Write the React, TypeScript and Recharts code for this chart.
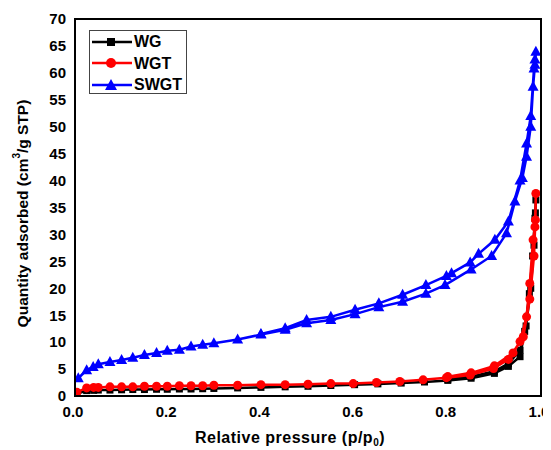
import React from "react";
import {
  ScatterChart,
  Scatter,
  XAxis,
  YAxis,
  Label,
} from "recharts";

// Relative pressure (p/p0) vs quantity adsorbed (cm3/g STP)
const wgAdsorption: [number, number][] = [
  [0.004, 0.4], [0.025, 1.0], [0.04, 1.05], [0.05, 1.1], [0.075, 1.1], [0.1, 1.15],
  [0.124, 1.2], [0.149, 1.2], [0.175, 1.25], [0.198, 1.25], [0.224, 1.3], [0.249, 1.3],
  [0.274, 1.35], [0.298, 1.4], [0.349, 1.5], [0.399, 1.6], [0.451, 1.7], [0.5, 1.8],
  [0.549, 1.95], [0.6, 2.1], [0.65, 2.25], [0.7, 2.4], [0.75, 2.6], [0.8, 2.9],
  [0.85, 3.3], [0.9, 4.2], [0.93, 5.5], [0.955, 7.3], [0.965, 12.0], [0.975, 19.0],
  [0.982, 26.0], [0.987, 33.0], [0.989, 36.4],
];
const wgDesorption: [number, number][] = [
  [0.988, 34.0], [0.985, 28.0], [0.978, 20.0], [0.968, 13.0], [0.955, 8.5], [0.93, 6.0],
  [0.9, 4.6], [0.85, 3.6], [0.8, 3.1],
];

const wgtAdsorption: [number, number][] = [
  [0.004, 0.7], [0.025, 1.5], [0.04, 1.6], [0.05, 1.6], [0.075, 1.7], [0.1, 1.7],
  [0.124, 1.7], [0.149, 1.8], [0.175, 1.8], [0.198, 1.8], [0.224, 1.9], [0.249, 1.9],
  [0.274, 1.9], [0.298, 2.0], [0.349, 2.0], [0.399, 2.1], [0.451, 2.1], [0.5, 2.2],
  [0.549, 2.3], [0.597, 2.3], [0.647, 2.5], [0.697, 2.7], [0.747, 3.0], [0.797, 3.4],
  [0.848, 3.9], [0.898, 5.1], [0.93, 6.8], [0.955, 10.1], [0.969, 14.7], [0.976, 20.9],
  [0.983, 29.0], [0.987, 31.4], [0.989, 37.6],
];
const wgtDesorption: [number, number][] = [
  [0.988, 32.7], [0.985, 26.0], [0.976, 18.0], [0.962, 11.0], [0.94, 8.0], [0.9, 5.6],
  [0.85, 4.3], [0.8, 3.6],
];

const swgtAdsorption: [number, number][] = [
  [0.007, 3.3], [0.025, 4.8], [0.039, 5.4], [0.05, 5.9], [0.075, 6.3], [0.1, 6.7],
  [0.124, 7.1], [0.149, 7.6], [0.175, 8.0], [0.198, 8.4], [0.224, 8.6], [0.249, 9.2],
  [0.274, 9.5], [0.298, 9.8], [0.349, 10.5], [0.399, 11.4], [0.451, 12.3], [0.497, 13.5],
  [0.549, 14.1], [0.601, 15.2], [0.652, 16.5], [0.703, 17.5], [0.753, 19.0], [0.794, 20.6],
  [0.85, 23.5], [0.894, 26.0], [0.926, 30.2], [0.944, 36.1], [0.96, 40.5], [0.969, 44.4],
  [0.978, 50.0], [0.983, 57.4], [0.987, 61.5], [0.989, 63.9],
];
const swgtDesorption: [number, number][] = [
  [0.987, 62.5], [0.985, 60.8], [0.978, 52.0], [0.969, 46.9], [0.955, 40.0], [0.93, 32.4],
  [0.901, 29.0], [0.866, 26.4], [0.848, 24.8], [0.808, 22.8], [0.797, 22.3], [0.753, 20.6],
  [0.703, 18.8], [0.652, 17.2], [0.601, 16.0], [0.549, 14.7], [0.497, 14.1], [0.451, 12.6],
  [0.399, 11.5],
];

const xTicks = [0, 0.2, 0.4, 0.6, 0.8, 1.0];
const yTicks = [0, 5, 10, 15, 20, 25, 30, 35, 40, 45, 50, 55, 60, 65, 70];

const seriesNames = ["WG", "WGT", "SWGT"];
const seriesColors = ["#000000", "#ff0000", "#0000ff"];

const toPoints = (ads: [number, number][], des: [number, number][]) =>
  [...ads, ...des].map(([x, y]) => ({ x, y }));

const wgData = toPoints(wgAdsorption, wgDesorption);
const wgtData = toPoints(wgtAdsorption, wgtDesorption);
const swgtData = toPoints(swgtAdsorption, swgtDesorption);

const FONT = "'Liberation Sans', Arial, sans-serif";

// chart layout (chart-local pixels)
const CHART_W = 543;
const CHART_H = 442;
const M_TOP = 11;
const M_RIGHT = 10;
const Y_AXIS_W = 67;
const X_AXIS_H = 54;

const SquareShape = (props: any) => {
  const { cx, cy } = props;
  if (cx == null || cy == null) return null;
  return <rect x={cx - 3.5} y={cy - 3.5} width={7} height={7} fill="#000000" />;
};
const CircleShape = (props: any) => {
  const { cx, cy } = props;
  if (cx == null || cy == null) return null;
  return <circle cx={cx} cy={cy} r={4.5} fill="#ff0000" />;
};
const TriangleShape = (props: any) => {
  const { cx, cy } = props;
  if (cx == null || cy == null) return null;
  return (
    <polygon
      points={`${cx},${cy - 6} ${cx - 5.5},${cy + 4} ${cx + 5.5},${cy + 4}`}
      fill="#0000ff"
    />
  );
};

const legendMarker = (i: number) => {
  if (i === 0) return <rect x={16} y={4} width={8} height={8} fill="#000" />;
  if (i === 1) return <circle cx={20} cy={8} r={5} fill="#ff0000" />;
  return <polygon points="20,2 14,13 26,13" fill="#0000ff" />;
};

const LegendBox = () => (
  <div
    style={{
      position: "absolute",
      left: 81,
      top: 22,
      border: "1.5px solid #444",
      background: "#fff",
      width: 98,
      height: 64,
      boxSizing: "border-box",
      fontFamily: FONT,
    }}
  >
    {seriesNames.map((name, i) => (
      <div
        key={name}
        style={{ display: "flex", alignItems: "center", height: 21.5, lineHeight: "21.5px" }}
      >
        <svg width={42} height={16} style={{ marginLeft: 1 }}>
          <line x1={1} y1={8} x2={41} y2={8} stroke={seriesColors[i]} strokeWidth={2.5} />
          {legendMarker(i)}
        </svg>
        <span style={{ fontSize: 16, fontWeight: "bold", color: "#000", marginLeft: 1 }}>
          {name}
        </span>
      </div>
    ))}
  </div>
);

const PlotFrame = () => (
  <div
    style={{
      position: "absolute",
      left: Y_AXIS_W - 1,
      top: M_TOP - 1,
      width: CHART_W - M_RIGHT - Y_AXIS_W + 2,
      height: CHART_H - X_AXIS_H - M_TOP + 2,
      border: "2px solid #000",
      boxSizing: "border-box",
      pointerEvents: "none",
    }}
  />
);

const YTitle = (props: any) => {
  const vb = props.viewBox || { x: 0, y: 0, width: 0, height: 0 };
  const cx = 14;
  const cy = vb.y + vb.height / 2 + 6;
  return (
    <text
      x={cx}
      y={cy}
      transform={`rotate(-90, ${cx}, ${cy})`}
      textAnchor="middle"
      dominantBaseline="central"
      fontFamily={FONT}
      fontWeight="bold"
      fontSize={15.5}
      fill="#000"
    >
      Quantity adsorbed (cm
      <tspan dy={-6} fontSize={10}>3</tspan>
      <tspan dy={6}>/g STP)</tspan>
    </text>
  );
};

const XTitle = (props: any) => {
  const vb = props.viewBox || { x: 0, y: 0, width: 0, height: 0 };
  const cx = vb.x + vb.width / 2 - 18;
  const cy = 429;
  return (
    <text
      x={cx}
      y={cy}
      textAnchor="middle"
      dominantBaseline="central"
      fontFamily={FONT}
      fontWeight="bold"
      fontSize={16}
      letterSpacing={0.5}
      fill="#000"
    >
      Relative pressure (p/p
      <tspan dy={5} fontSize={10}>0</tspan>
      <tspan dy={-5}>)</tspan>
    </text>
  );
};

const XTick = (props: any) => {
  const { x, y, payload } = props;
  return (
    <text
      x={x - 2}
      y={y}
      dy="0.71em"
      textAnchor="middle"
      fill="#000"
      fontSize={15}
      fontWeight="bold"
      fontFamily={FONT}
    >
      {Number(payload.value).toFixed(1)}
    </text>
  );
};

const tickStyle = { fill: "#000", fontSize: 15, fontWeight: "bold", fontFamily: FONT };
const frameLine = { stroke: "#000", strokeWidth: 2 };

export default function App() {
  return (
    <div style={{ position: "relative", width: CHART_W, height: CHART_H, background: "#fff" }}>
      <ScatterChart
        width={CHART_W}
        height={CHART_H}
        margin={{ top: M_TOP, right: M_RIGHT, left: 0, bottom: 0 }}
      >
        <XAxis
          type="number"
          dataKey="x"
          domain={[0, 1]}
          ticks={xTicks}
          tickLine={false}
          tickSize={0}
          tickMargin={10}
          axisLine={frameLine}
          height={X_AXIS_H}
          allowDataOverflow
          tick={<XTick />}
        >
          <Label content={<XTitle />} />
        </XAxis>
        <YAxis
          type="number"
          dataKey="y"
          domain={[0, 70]}
          ticks={yTicks}
          tickLine={false}
          tickSize={0}
          tickMargin={9}
          axisLine={frameLine}
          width={Y_AXIS_W}
          allowDataOverflow
          tick={tickStyle}
        >
          <Label content={<YTitle />} />
        </YAxis>
        <Scatter
          name="WG"
          data={wgData}
          fill="#000000"
          line={{ stroke: "#000000", strokeWidth: 2.5 }}
          shape={SquareShape}
          isAnimationActive={false}
        />
        <Scatter
          name="WGT"
          data={wgtData}
          fill="#ff0000"
          line={{ stroke: "#ff0000", strokeWidth: 2.5 }}
          shape={CircleShape}
          isAnimationActive={false}
        />
        <Scatter
          name="SWGT"
          data={swgtData}
          fill="#0000ff"
          line={{ stroke: "#0000ff", strokeWidth: 2.5 }}
          shape={TriangleShape}
          isAnimationActive={false}
        />
      </ScatterChart>
      <PlotFrame />
      <LegendBox />
    </div>
  );
}
